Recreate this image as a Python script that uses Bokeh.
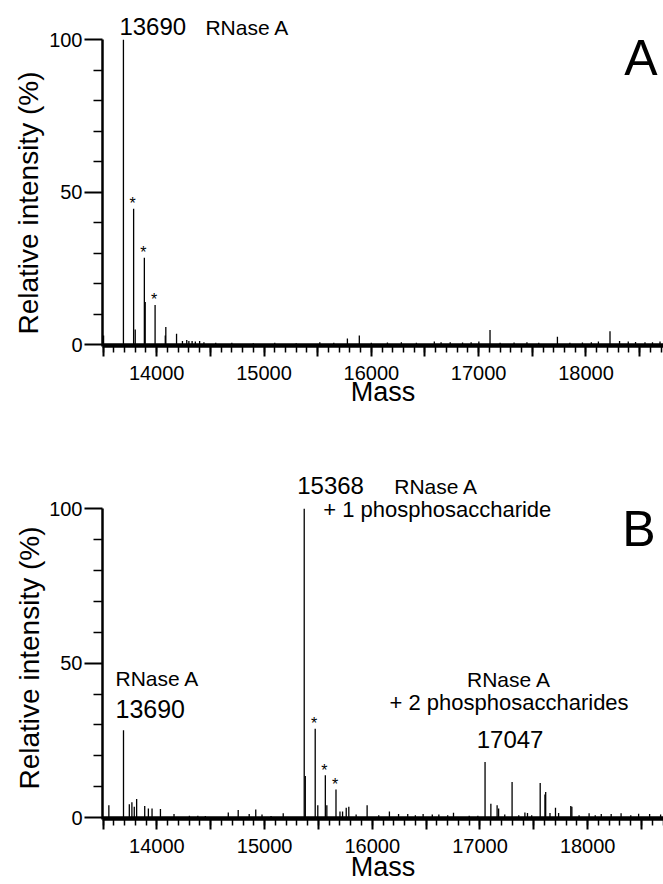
from bokeh.plotting import figure
from bokeh.models import FixedTicker, Label, Span, Range1d, Title
from bokeh.layouts import column
from bokeh.embed import file_html
from bokeh.resources import INLINE

FONT = "Liberation Sans"

# ---------------- data ----------------
# Panel A: RNase A
a_mass = [13505, 13690, 13785, 13800, 13885, 13893, 13985, 14080, 14085, 14185,
          14240, 14280, 14300, 14330, 14360, 14400, 14440, 14550, 14700, 14900,
          15100, 15300, 15520, 15650, 15777, 15888, 16000, 16150, 16280, 16420,
          16587, 16650, 16735, 16850, 16930, 17002, 17106, 17200, 17330, 17450,
          17560, 17734, 17850, 17967, 18050, 18116, 18224, 18313, 18394, 18462,
          18550, 18620, 18690]
a_int = [3.0, 100.0, 44.6, 5.0, 28.5, 14.0, 13.0, 3.0, 5.8, 3.6,
         1.2, 1.5, 1.2, 1.2, 1.0, 1.2, 0.8, 0.6, 0.6, 0.5,
         0.6, 0.5, 0.8, 0.6, 2.0, 3.0, 0.6, 0.7, 0.8, 0.6,
         1.0, 0.8, 0.8, 0.7, 0.8, 1.0, 4.8, 0.6, 0.7, 0.8,
         0.6, 2.6, 0.6, 0.7, 0.8, 1.0, 4.4, 1.2, 1.0, 0.9,
         0.8, 0.8, 1.0]
a_star_mass = [13785, 13885, 13985]

# Panel B: RNase A after phosphosaccharide transfer
b_mass = [13554, 13690, 13744, 13768, 13790, 13812, 13887, 13921, 13955, 14033,
          14159, 14302, 14380, 14450, 14663, 14755, 14857, 14918, 14976, 15060,
          15173, 15368, 15378, 15470, 15494, 15564, 15578, 15663, 15700, 15724,
          15758, 15782, 15850, 15952, 16060, 16159, 16244, 16329, 16400, 16472,
          16557, 16618, 16700, 16754, 16900, 16980, 17047, 17101, 17159, 17173,
          17230, 17298, 17360, 17417, 17441, 17480, 17559, 17603, 17610, 17650,
          17701, 17730, 17843, 17853, 17920, 18013, 18070, 18126, 18218, 18310,
          18400, 18473, 18575, 18677]
b_int = [4.0, 28.3, 4.3, 5.0, 3.5, 6.0, 3.8, 3.0, 3.0, 2.8,
         1.2, 0.6, 0.6, 0.5, 1.7, 2.5, 1.2, 2.6, 1.0, 0.5,
         1.4, 100.0, 13.5, 28.8, 4.0, 13.7, 4.0, 9.1, 2.0, 2.0,
         3.2, 3.5, 1.0, 4.0, 0.8, 2.0, 1.2, 1.2, 0.8, 1.2,
         1.0, 1.0, 0.8, 1.6, 0.6, 0.6, 18.0, 4.5, 4.0, 3.0,
         1.0, 11.5, 0.8, 1.7, 1.5, 0.8, 11.2, 7.5, 8.3, 1.5,
         3.2, 1.5, 3.8, 3.5, 0.8, 1.4, 0.8, 1.2, 1.2, 1.4,
         0.8, 1.3, 1.2, 1.0]
b_star_mass = [15470, 15564, 15663]

# ticks
mass_ticks = [13500, 14000, 14500, 15000, 15500, 16000, 16500, 17000, 17500, 18000, 18500]
mass_minor = list(range(13500, 18800, 100))
int_ticks = [0, 50, 100]
int_minor = [10, 20, 30, 40, 60, 70, 80, 90]
mass_overrides = {float(t): ("" if t % 1000 else str(t)) for t in mass_ticks}

X_START = 13495
PX_PER_DA = 0.1077
W = 663


def style(p, label_standoff_x, title_offset, title_standoff):
    p.background_fill_color = "white"
    p.border_fill_color = "white"
    p.outline_line_color = None
    p.xgrid.visible = False
    p.ygrid.visible = False

    xa = p.xaxis[0]
    xa.ticker = FixedTicker(ticks=mass_ticks, minor_ticks=mass_minor)
    xa.major_label_overrides = mass_overrides
    xa.axis_label = "Mass"
    xa.axis_label_text_font = FONT
    xa.axis_label_text_font_size = "27px"
    xa.axis_label_text_font_style = "normal"
    xa.axis_label_text_color = "black"
    xa.axis_label_standoff = label_standoff_x
    xa.major_label_text_font = FONT
    xa.major_label_text_font_size = "20px"
    xa.major_label_text_color = "black"
    xa.major_label_standoff = 9
    xa.axis_line_width = 2.5
    xa.axis_line_color = "black"
    xa.major_tick_line_width = 2
    xa.major_tick_line_color = "black"
    xa.minor_tick_line_width = 1.5
    xa.minor_tick_line_color = "black"
    xa.major_tick_out = 10
    xa.major_tick_in = 0
    xa.minor_tick_out = 6
    xa.minor_tick_in = 0

    ya = p.yaxis[0]
    ya.ticker = FixedTicker(ticks=int_ticks, minor_ticks=int_minor)
    ya.bounds = (-0.6, 100)
    ya.major_label_text_font = FONT
    ya.major_label_text_font_size = "20px"
    ya.major_label_text_color = "black"
    ya.major_label_standoff = 2
    ya.axis_line_width = 2.5
    ya.axis_line_color = "black"
    ya.major_tick_line_width = 2
    ya.major_tick_line_color = "black"
    ya.minor_tick_line_width = 1.5
    ya.minor_tick_line_color = "black"
    ya.major_tick_out = 18
    ya.major_tick_in = 0
    ya.minor_tick_out = 9
    ya.minor_tick_in = 0

    # y axis title, started from the bottom of the frame and lifted to the 0-100 span
    p.add_layout(Title(text="Relative intensity (%)", align="left", offset=title_offset,
                       text_font=FONT, text_font_size="28px", text_font_style="normal",
                       text_color="black", standoff=title_standoff), "left")

    p.add_layout(Span(location=0, dimension="width", line_color="black", line_width=3))


def lab(p, x, y, text, size, dx, dy, align="left"):
    fs = float(size.replace("px", ""))
    p.add_layout(Label(x=x, y=y, text=text, text_font=FONT, text_font_size=size,
                       x_offset=dx, y_offset=dy + 0.33 * fs, text_align=align,
                       text_baseline="alphabetic", text_color="black"))


# ---------------- panel A ----------------
hA, lA, bA = 410, 100, 64
frameA_h = hA - bA
pA = figure(width=W, height=hA, output_backend="svg", toolbar_location=None,
            min_border_left=lA, min_border_right=0, min_border_top=0, min_border_bottom=bA,
            x_range=Range1d(X_START, X_START + (W - lA) / PX_PER_DA),
            y_range=Range1d(-0.6, -0.6 + frameA_h / 3.05))
style(pA, -6, 12, 5)
pA.segment(x0=a_mass, y0=[0] * len(a_mass), x1=a_mass, y1=a_int,
           line_color="black", line_width=1.3)
ia = a_mass.index(13690)
lab(pA, a_mass[ia], a_int[ia], "13690", "24px", -4, 5)
lab(pA, a_mass[ia], a_int[ia], "RNase A", "21px", 82, 5)
for m in a_star_mass:
    k = a_mass.index(m)
    lab(pA, m, a_int[k], "*", "16px", -1, 0, "center")
lab(pA, pA.x_range.end, 100, "A", "50px", -6, -35, "right")

# ---------------- panel B ----------------
hB, lB, bB = 474, 102, 65
frameB_h = hB - bB
pB = figure(width=W, height=hB, output_backend="svg", toolbar_location=None,
            min_border_left=lB, min_border_right=0, min_border_top=0, min_border_bottom=bB,
            x_range=Range1d(X_START, X_START + (W - lB) / PX_PER_DA),
            y_range=Range1d(-0.6, -0.6 + frameB_h / 3.09))
style(pB, -4, 30, 3)
pB.segment(x0=b_mass, y0=[0] * len(b_mass), x1=b_mass, y1=b_int,
           line_color="black", line_width=1.3)
i1 = b_mass.index(15368)
lab(pB, b_mass[i1], b_int[i1], "15368", "24px", -7, 15)
lab(pB, b_mass[i1], b_int[i1], "RNase A", "21px", 90, 15)
lab(pB, b_mass[i1], b_int[i1], "+ 1 phosphosaccharide", "22px", 19, -8)
i0 = b_mass.index(13690)
lab(pB, b_mass[i0], b_int[i0], "RNase A", "21px", -8, 45)
lab(pB, b_mass[i0], b_int[i0], "13690", "25px", -8, 13)
i2 = b_mass.index(17047)
lab(pB, b_mass[i2], b_int[i2], "RNase A", "21px", 24, 76, "center")
lab(pB, b_mass[i2], b_int[i2], "+ 2 phosphosaccharides", "22px", 24, 52, "center")
lab(pB, b_mass[i2], b_int[i2], "17047", "24px", 25, 15, "center")
for m in b_star_mass:
    k = b_mass.index(m)
    lab(pB, m, b_int[k], "*", "16px", -1, 0, "center")
lab(pB, pB.x_range.end, 100, "B", "50px", -8, -37, "right")

layout = column(pA, pB, spacing=0)
open("out.html", "w").write(file_html(layout, INLINE))
